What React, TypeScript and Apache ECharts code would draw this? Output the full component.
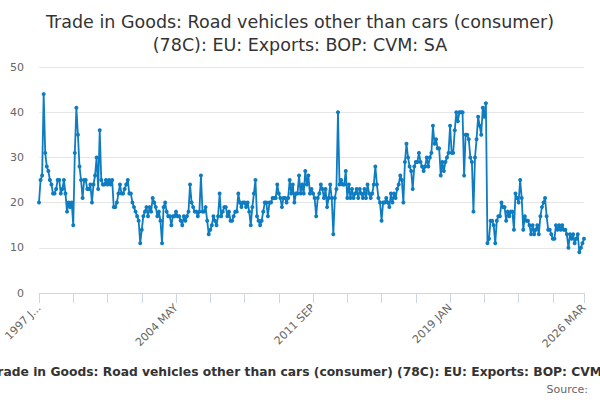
import React, { useEffect, useRef } from "react";
import * as echarts from "echarts";

const START_YEAR = 1997;
const MONTHS = ["JAN", "FEB", "MAR", "APR", "MAY", "JUN", "JUL", "AUG", "SEP", "OCT", "NOV", "DEC"];
const POINT_COUNT = 351; // 1997 JAN .. 2026 MAR

const months: string[] = [];
for (let i = 0; i < POINT_COUNT; i++) {
  months.push(`${START_YEAR + Math.floor(i / 12)} ${MONTHS[i % 12]}`);
}

// values, in chunks of roughly 45 months
const values1997 = [
  20, 25, 26, 44, 31, 28, 27, 25, 24, 22, 22, 23, 25, 25, 22, 23, 25, 22, 18, 20, 19, 20, 15, 31, 41,
  35, 28, 25, 21, 25, 25, 23, 23, 24, 20, 24, 26, 30, 23, 36, 25, 24, 24, 25, 24,
];
const values2000 = [
  25, 24, 25, 19, 19, 20, 22, 24, 22, 22, 23, 24, 25, 22, 22, 20, 19, 18, 17, 16, 11, 14, 17, 18, 19,
  17, 19, 18, 21, 20, 19, 17, 18, 16, 11, 19, 20, 18, 17, 17, 15, 17, 17, 18, 17,
];
const values2004 = [
  17, 16, 15, 17, 16, 17, 18, 24, 20, 19, 18, 18, 17, 18, 26, 18, 18, 19, 16, 13, 14, 15, 17, 16, 15,
  17, 22, 17, 18, 19, 19, 17, 18, 16, 16, 17, 18, 18, 22, 20, 19, 20, 20, 19, 20,
];
const values2008 = [
  18, 15, 19, 22, 25, 17, 16, 15, 16, 18, 20, 20, 17, 20, 20, 21, 21, 21, 24, 22, 21, 19, 21, 21, 20,
  21, 25, 22, 24, 20, 22, 22, 26, 22, 24, 22, 27, 24, 26, 22, 23, 22, 21, 17, 21,
];
const values2012 = [
  22, 24, 23, 21, 23, 19, 21, 24, 21, 13, 21, 23, 40, 24, 25, 24, 24, 27, 21, 24, 21, 23, 21, 22, 23,
  21, 23, 22, 21, 23, 21, 24, 22, 21, 22, 24, 28, 24, 21, 20, 16, 20, 20, 21, 20,
];
const values2015 = [
  19, 22, 20, 22, 21, 23, 24, 26, 25, 20, 29, 33, 30, 28, 27, 23, 28, 29, 29, 31, 29, 28, 27, 28, 30,
  28, 30, 31, 37, 33, 34, 32, 32, 26, 29, 27, 29, 30, 31, 37, 31, 31, 36, 40, 38,
];
const values2019 = [
  40, 40, 40, 26, 35, 35, 34, 30, 29, 18, 30, 34, 39, 37, 35, 41, 39, 42, 11, 12, 16, 16, 15, 11, 16,
  17, 17, 20, 19, 19, 16, 18, 17, 18, 18, 14, 22, 21, 20, 25, 21, 14, 17, 16, 16,
];
const values2023 = [
  15, 13, 15, 13, 14, 15, 13, 17, 19, 20, 21, 17, 14, 14, 13, 12, 12, 15, 14, 15, 14, 15, 14, 14, 13,
  10, 13, 12, 13, 11, 12, 13, 9, 10, 11, 12,
];

const values = [
  ...values1997, ...values2000, ...values2004, ...values2008,
  ...values2012, ...values2015, ...values2019, ...values2023,
];

const TITLE = "Trade in Goods: Road vehicles other than cars (consumer)\n(78C): EU: Exports: BOP: CVM: SA";
const CAPTION = "Trade in Goods: Road vehicles other than cars (consumer) (78C): EU: Exports: BOP: CVM: SA";
const SOURCE = "Source:";

const LABEL_STEP = 88;
const TICK_STEP = 22;

export default function App() {
  const chartRef = useRef<HTMLDivElement>(null);

  useEffect(() => {
    if (!chartRef.current) return;
    const chart = echarts.init(chartRef.current, null, { renderer: "svg" });
    const last = months.length - 1;
    chart.setOption({
      animation: false,
      textStyle: { fontFamily: "DejaVu Sans" },
      title: {
        text: TITLE,
        left: "center",
        top: 5,
        textStyle: { fontSize: 17.5, fontWeight: "normal", color: "#333", lineHeight: 23 },
      },
      grid: { left: 39, right: 16, top: 67, bottom: 107 },
      xAxis: {
        type: "category",
        data: months,
        boundaryGap: false,
        axisLine: { lineStyle: { color: "#ccd6eb" } },
        axisTick: {
          length: 10,
          lineStyle: { color: "#ccd6eb" },
          interval: (i: number) => i % TICK_STEP === 0 || i === last,
        },
        axisLabel: {
          rotate: 45,
          color: "#666",
          fontSize: 11,
          margin: 13,
          interval: (i: number) => i % LABEL_STEP === 0 || i === last,
          formatter: (v: string, i: number) => (i === 0 ? v.slice(0, 6) + "..." : v),
        },
        splitLine: { show: false },
      },
      yAxis: {
        type: "value",
        min: 0,
        max: 50,
        interval: 10,
        axisLine: { show: false },
        axisTick: { show: false },
        axisLabel: { color: "#666", fontSize: 11, margin: 15 },
        splitLine: { lineStyle: { color: "#e6e6e6" } },
      },
      series: [
        {
          type: "line",
          data: values,
          symbol: "circle",
          symbolSize: 4,
          showAllSymbol: true,
          lineStyle: { color: "#0e7cc1", width: 1.8 },
          itemStyle: { color: "#0e7cc1" },
        },
      ],
      graphic: [
        {
          type: "text",
          x: 310,
          y: 372,
          style: {
            text: CAPTION,
            fill: "#333",
            font: "bold 12.3px 'DejaVu Sans'",
            textAlign: "center",
            textVerticalAlign: "middle",
          },
        },
        {
          type: "text",
          x: 588,
          y: 389,
          style: {
            text: SOURCE,
            fill: "#666",
            font: "11px 'DejaVu Sans'",
            textAlign: "right",
            textVerticalAlign: "middle",
          },
        },
      ],
    });
    return () => {
      chart.dispose();
    };
  }, []);

  return (
    <div
      ref={chartRef}
      style={{ position: "absolute", left: 0, top: 0, width: 600, height: 400 }}
    />
  );
}
